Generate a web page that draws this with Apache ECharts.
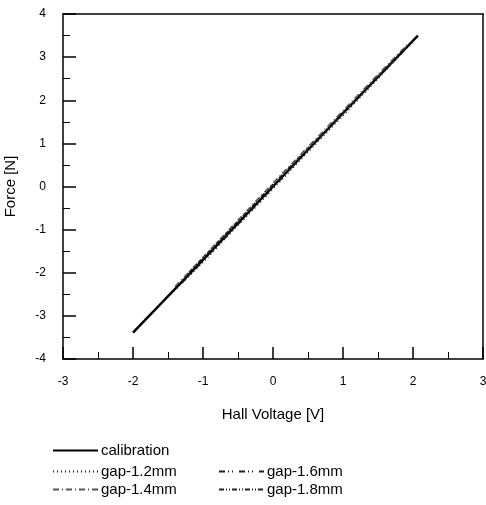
<!DOCTYPE html>
<html>
<head>
<meta charset="utf-8">
<script src="https://cdn.jsdelivr.net/npm/echarts@6/dist/echarts.min.js"></script>
<style>
  html, body { margin: 0; padding: 0; background: #fff; }
  #chart { width: 486px; height: 505px; }
</style>
</head>
<body>
<div id="chart"></div>
<script>
// 数据：霍尔电压 (V) 与 力 (N)
var calibX = [-2.0, -1.0, 0.0, 1.0, 2.07];
var calibY = [-3.39, -1.70, 0.0, 1.70, 3.50];

var gap12X = [-1.5, -1.0, -0.5, 0.0, 0.5, 1.0, 1.5, 2.0];
var gap12Y = [-2.56, -1.76, -0.90, -0.06, 0.80, 1.64, 2.50, 3.36];
var gap14X = [-1.4, -1.0, -0.5, 0.0, 0.5, 1.0, 1.5, 1.95];
var gap14Y = [-2.32, -1.64, -0.78, 0.08, 0.92, 1.76, 2.60, 3.34];
var gap16X = [-1.3, -1.0, -0.5, 0.0, 0.5, 1.0, 1.5, 1.9];
var gap16Y = [-2.24, -1.73, -0.88, -0.03, 0.84, 1.71, 2.55, 3.22];
var gap18X = [-1.2, -1.0, -0.5, 0.0, 0.5, 1.0, 1.5, 1.85];
var gap18Y = [-1.99, -1.65, -0.80, 0.05, 0.89, 1.69, 2.55, 3.15];

var xTicks = [-3, -2, -1, 0, 1, 2, 3];
var yTicks = [-4, -3, -2, -1, 0, 1, 2, 3, 4];

function pairs(xs, ys) {
  return xs.map(function (x, i) { return [x, ys[i]]; });
}

var chart = echarts.init(document.getElementById('chart'));
var font = 'Liberation Sans, Arial, sans-serif';

function lineSeries(name, xs, ys, color, width, type) {
  return {
    name: name,
    type: 'line',
    data: pairs(xs, ys),
    showSymbol: false,
    symbol: 'none',
    lineStyle: { color: color, width: width, type: type },
    itemStyle: { color: color },
    z: name === 'calibration' ? 3 : 4
  };
}

var legendText = { color: '#000', fontSize: 15, fontFamily: font, padding: [0, 0, 0, -2] };
var noSymbol = { opacity: 0 };

var option = {
  animation: false,
  backgroundColor: '#fff',
  grid: { left: 63, top: 14, right: 3, bottom: 146, outerBoundsMode: 'none', containLabel: false },
  legend: [
    { data: ['calibration'], left: 52, top: 443, padding: 0, itemWidth: 45, itemHeight: 14, itemStyle: noSymbol, textStyle: legendText },
    { data: ['gap-1.2mm', 'gap-1.4mm'], orient: 'vertical', left: 52, top: 464, padding: 0, itemWidth: 45, itemHeight: 14, itemGap: 3, itemStyle: noSymbol, textStyle: legendText },
    { data: ['gap-1.6mm', 'gap-1.8mm'], orient: 'vertical', left: 218, top: 464, padding: 0, itemWidth: 45, itemHeight: 14, itemGap: 3, itemStyle: noSymbol, textStyle: legendText }
  ],
  xAxis: [
    {
      type: 'value', min: -3, max: 3, interval: 1,
      name: 'Hall Voltage [V]', nameLocation: 'middle', nameGap: 48,
      nameTextStyle: { color: '#000', fontSize: 15, fontFamily: font },
      axisLine: { onZero: false, lineStyle: { color: '#000', width: 1.5 } },
      axisTick: { inside: true, length: 12, lineStyle: { color: '#000', width: 1.5 } },
      minorTick: { show: true, splitNumber: 2, length: 7, lineStyle: { color: '#000', width: 1 } },
      axisLabel: { color: '#000', fontSize: 12, fontFamily: font, margin: 17,
        formatter: function (v) { return xTicks.indexOf(v) >= 0 ? String(v) : ''; } },
      splitLine: { show: false }
    },
    {
      type: 'value', min: -3, max: 3, position: 'top',
      axisLine: { onZero: false, lineStyle: { color: '#000', width: 1.5 } },
      axisTick: { show: false }, axisLabel: { show: false }, splitLine: { show: false }
    }
  ],
  yAxis: [
    {
      type: 'value', min: -4, max: 4, interval: 1,
      name: 'Force [N]', nameLocation: 'middle', nameGap: 45, nameRotate: 90,
      nameTextStyle: { color: '#000', fontSize: 15, fontFamily: font },
      axisLine: { onZero: false, lineStyle: { color: '#000', width: 1.5 } },
      axisTick: { inside: true, length: 13, lineStyle: { color: '#000', width: 1.5 } },
      minorTick: { show: true, splitNumber: 2, length: 7, lineStyle: { color: '#000', width: 1 } },
      axisLabel: { color: '#000', fontSize: 12, fontFamily: font, margin: 17,
        formatter: function (v) { return yTicks.indexOf(v) >= 0 ? String(v) : ''; } },
      splitLine: { show: false }
    },
    {
      type: 'value', min: -4, max: 4, position: 'right',
      axisLine: { show: true, onZero: false, lineStyle: { color: '#000', width: 1.5 } },
      axisTick: { show: false }, axisLabel: { show: false }, splitLine: { show: false }
    }
  ],
  series: [
    lineSeries('calibration', calibX, calibY, '#000', 2.4, 'solid'),
    lineSeries('gap-1.2mm', gap12X, gap12Y, '#222', 1.5, [1, 3]),
    lineSeries('gap-1.4mm', gap14X, gap14Y, '#555', 1.5, [6, 3, 1, 3]),
    lineSeries('gap-1.6mm', gap16X, gap16Y, '#222', 1.5, [6, 3, 1, 3, 1, 6]),
    lineSeries('gap-1.8mm', gap18X, gap18Y, '#222', 1.5, [5, 2, 1, 2, 1, 2])
  ]
};

chart.setOption(option);
</script>
</body>
</html>
